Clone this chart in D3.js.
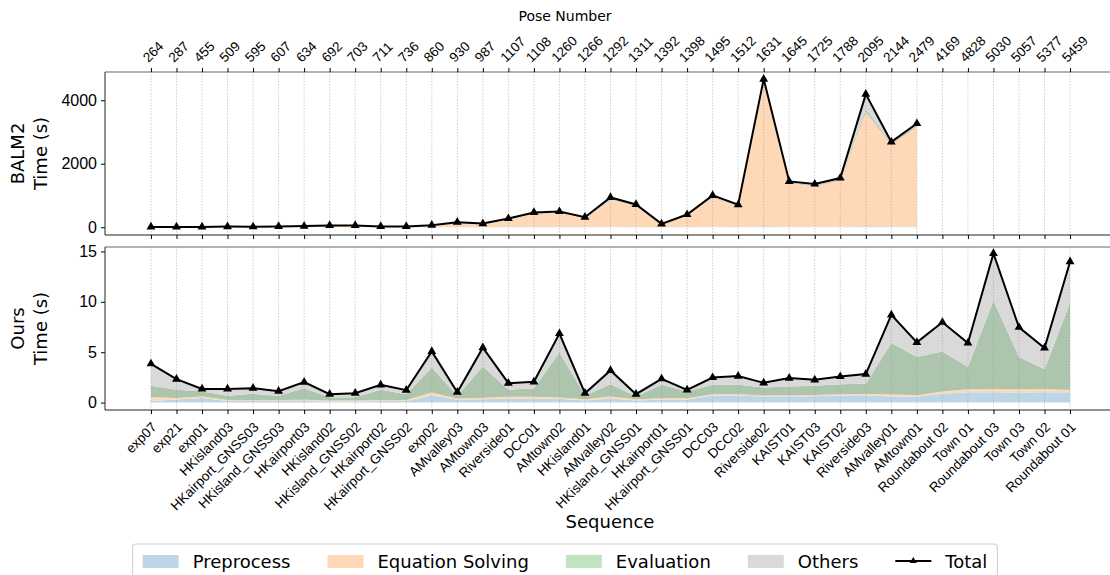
<!DOCTYPE html>
<html>
<head>
<meta charset="utf-8">
<script src="https://cdn.jsdelivr.net/npm/d3@7"></script>
<style>
  body { margin: 0; background: #fff; }
  svg { font-family: "DejaVu Sans", sans-serif; }
</style>
</head>
<body>
<svg id="chart" width="1110" height="575"></svg>
<script>
// sequences along the x axis, with their pose counts on the top axis
const sequences = ["exp07", "exp21", "exp01", "HKisland03", "HKairport_GNSS03", "HKisland_GNSS03",
  "HKairport03", "HKisland02", "HKisland_GNSS02", "HKairport02", "HKairport_GNSS02", "exp02",
  "AMvalley03", "AMtown03", "Riverside01", "DCC01", "AMtown02", "HKisland01", "AMvalley02",
  "HKisland_GNSS01", "HKairport01", "HKairport_GNSS01", "DCC03", "DCC02", "Riverside02",
  "KAIST01", "KAIST03", "KAIST02", "Riverside03", "AMvalley01", "AMtown01", "Roundabout 02",
  "Town 01", "Roundabout 03", "Town 03", "Town 02", "Roundabout 01"];
const poseNumbers = [264, 287, 455, 509, 595, 607, 634, 692, 703, 711, 736, 860, 930, 987, 1107,
  1108, 1260, 1266, 1292, 1311, 1392, 1398, 1495, 1512, 1631, 1645, 1725, 1788, 2095, 2144, 2479,
  4169, 4828, 5030, 5057, 5377, 5459];

// BALM2 timings (s), only the first 31 sequences
const balmPre = [0.5, 0.5, 0.5, 1, 1, 1, 1, 2, 2, 1, 1, 2, 4, 3, 5, 8, 8, 6, 12, 10, 2, 6, 12, 10, 30, 15, 15, 18, 30, 25, 25];
const balmSolve = [6, 6, 8, 16, 12, 21, 29, 46, 46, 21, 21, 55, 140, 99, 245, 420, 447, 284, 861, 657, 95, 365, 925, 647, 4527, 1364, 1280, 1456, 3603, 2582, 3152];
const balmEval = [0.5, 0.5, 0.5, 1, 1, 1, 2, 3, 3, 1, 1, 3, 6, 5, 10, 15, 16, 10, 25, 20, 4, 12, 25, 20, 50, 30, 30, 35, 80, 35, 40];
const balmOther = [1, 1, 1, 2, 1, 2, 3, 4, 4, 2, 2, 5, 10, 8, 15, 22, 24, 16, 40, 30, 6, 18, 40, 30, 60, 35, 35, 40, 480, 45, 50];

// Ours timings (s)
const oursPre = [0.15, 0.30, 0.45, 0.15, 0.15, 0.15, 0.15, 0.10, 0.10, 0.15, 0.15, 0.73, 0.27, 0.33, 0.37, 0.37, 0.37, 0.20, 0.40,
  0.20, 0.30, 0.30, 0.70, 0.70, 0.60, 0.63, 0.63, 0.70, 0.73, 0.60, 0.60, 0.87, 1.03, 1.03, 1.00, 1.03, 1.03];
const oursSolve = [0.40, 0.15, 0.15, 0.10, 0.10, 0.10, 0.12, 0.10, 0.10, 0.10, 0.10, 0.27, 0.13, 0.14, 0.20, 0.20, 0.13, 0.13, 0.20,
  0.13, 0.13, 0.13, 0.13, 0.13, 0.10, 0.10, 0.13, 0.13, 0.13, 0.23, 0.13, 0.23, 0.30, 0.33, 0.33, 0.33, 0.23];
const oursEval = [1.11, 0.82, 0.50, 0.42, 0.62, 0.42, 1.16, 0.30, 0.33, 1.02, 0.58, 2.49, 0.27, 3.12, 0.70, 0.86, 4.48, 0.34, 1.23,
  0.27, 1.33, 0.67, 0.93, 0.93, 0.80, 0.87, 0.90, 1.00, 1.00, 5.08, 3.79, 3.98, 2.19, 8.77, 3.19, 1.96, 8.64];
const oursOther = [2.19, 1.06, 0.26, 0.69, 0.56, 0.46, 0.60, 0.33, 0.40, 0.49, 0.40, 1.59, 0.36, 1.86, 0.66, 0.63, 1.87, 0.26, 1.36,
  0.23, 0.60, 0.16, 0.73, 0.87, 0.46, 0.83, 0.60, 0.76, 0.97, 2.79, 1.46, 2.89, 2.39, 4.67, 2.95, 2.10, 4.08];

const seriesNames = ["Preprocess", "Equation Solving", "Evaluation", "Others"];
const keys = ["pre", "solve", "eval", "other"];
const areaColors = ["#bcd6e8", "#ffd9b7", "#acc5ac", "#d9d9d9"];
const legendColors = ["#bcd6e8", "#ffd9b7", "#c0e3c0", "#d9d9d9"];

const left = 105, right = 1116;
const top1 = 72, bot1 = 235;
const top2 = 247, bot2 = 410;

const svg = d3.select("#chart");

const x = d3.scalePoint()
  .domain(d3.range(sequences.length))
  .range([left, right])
  .padding(1.8);

const y1 = d3.scaleLinear().domain([-245, 4890]).range([bot1, top1]);
const y2 = d3.scaleLinear().domain([-0.735, 15.44]).range([bot2, top2]);

function buildRows(pre, solve, ev, other) {
  return pre.map((d, i) => ({ i: i, pre: d, solve: solve[i], eval: ev[i], other: other[i] }));
}

function drawPanel(rows, y, top, bot, ticks) {
  const g = svg.append("g");
  const stacked = d3.stack().keys(keys)(rows);

  const area = d3.area()
    .x(d => x(d.data.i))
    .y0(d => y(d[0]))
    .y1(d => y(d[1]));

  g.selectAll(".layer")
    .data(stacked)
    .join("path")
    .attr("fill", (d, k) => areaColors[k])
    .attr("d", area);

  // dotted vertical grid
  g.selectAll(".grid")
    .data(sequences.map((s, i) => i))
    .join("line")
    .attr("x1", i => x(i)).attr("x2", i => x(i))
    .attr("y1", top).attr("y2", bot)
    .attr("stroke", "#999")
    .attr("stroke-opacity", 0.6)
    .attr("stroke-width", 0.8)
    .attr("stroke-dasharray", "1.5,1.5");

  const totals = rows.map(r => ({ i: r.i, t: r.pre + r.solve + r.eval + r.other }));
  g.append("path")
    .datum(totals)
    .attr("fill", "none")
    .attr("stroke", "black")
    .attr("stroke-width", 2)
    .attr("d", d3.line().x(d => x(d.i)).y(d => y(d.t)));

  g.selectAll(".mk")
    .data(totals)
    .join("path")
    .attr("transform", d => `translate(${x(d.i)},${y(d.t)})`)
    .attr("d", d3.symbol(d3.symbolTriangle, 34))
    .attr("fill", "black");

  // y axis
  const ya = svg.append("g")
    .attr("transform", `translate(${left},0)`)
    .call(d3.axisLeft(y).tickValues(ticks).tickSize(4).tickPadding(4).tickFormat(d3.format("d")));
  ya.select(".domain").remove();
  ya.selectAll("text").style("font-size", "16px");

  // frame
  svg.append("line").attr("x1", left).attr("x2", 1110).attr("y1", top).attr("y2", top)
    .attr("stroke", "#999").attr("stroke-width", 1.5);
  svg.append("line").attr("x1", left).attr("x2", 1110).attr("y1", bot).attr("y2", bot)
    .attr("stroke", "#222").attr("stroke-width", 1);
  svg.append("line").attr("x1", left).attr("x2", left).attr("y1", top).attr("y2", bot)
    .attr("stroke", "#222").attr("stroke-width", 1);
}

drawPanel(buildRows(balmPre, balmSolve, balmEval, balmOther), y1, top1, bot1, [0, 2000, 4000]);
drawPanel(buildRows(oursPre, oursSolve, oursEval, oursOther), y2, top2, bot2, [0, 5, 10, 15]);

// top axis: pose numbers
const topAx = svg.append("g")
  .attr("transform", `translate(0,${top1})`)
  .call(d3.axisTop(x).tickSize(4).tickFormat(i => poseNumbers[i]));
topAx.select(".domain").remove();
topAx.selectAll("text")
  .style("font-size", "13.5px")
  .attr("text-anchor", "start")
  .attr("x", 0).attr("y", 0).attr("dy", 0)
  .attr("transform", "translate(-3,-9) rotate(-45)");

// tick marks under the top panel
const midAx = svg.append("g")
  .attr("transform", `translate(0,${bot1})`)
  .call(d3.axisBottom(x).tickSize(4).tickFormat(""));
midAx.select(".domain").remove();

// bottom axis: sequence names
const botAx = svg.append("g")
  .attr("transform", `translate(0,${bot2})`)
  .call(d3.axisBottom(x).tickSize(4).tickFormat(i => sequences[i]));
botAx.select(".domain").remove();
botAx.selectAll("text")
  .style("font-size", "13.5px")
  .attr("text-anchor", "end")
  .attr("x", 0).attr("y", 0).attr("dy", 0)
  .attr("transform", "translate(6,18) rotate(-45)");

// titles
svg.append("text").attr("x", 565).attr("y", 21).attr("text-anchor", "middle")
  .style("font-size", "14px").text("Pose Number");
svg.append("text").attr("x", 610).attr("y", 528).attr("text-anchor", "middle")
  .style("font-size", "18px").text("Sequence");

function yLabel(lines, cy) {
  const t = svg.append("text")
    .attr("transform", `translate(0,${cy}) rotate(-90)`)
    .attr("text-anchor", "middle")
    .style("font-size", "18px");
  t.append("tspan").attr("x", 0).attr("y", 24).text(lines[0]);
  t.append("tspan").attr("x", 0).attr("y", 47).text(lines[1]);
}
yLabel(["BALM2", "Time (s)"], (top1 + bot1) / 2);
yLabel(["Ours", "Time (s)"], (top2 + bot2) / 2);

// legend
const legend = svg.append("g");
const box = legend.append("rect")
  .attr("fill", "white").attr("stroke", "#ccc").attr("rx", 3);
let cx = 0;
const entries = seriesNames.concat(["Total"]);
entries.forEach((name, k) => {
  const it = legend.append("g").attr("transform", `translate(${cx},0)`);
  if (k < 4) {
    it.append("rect").attr("x", 0).attr("y", -6).attr("width", 36).attr("height", 13)
      .attr("fill", legendColors[k]);
  } else {
    it.append("line").attr("x1", 0).attr("x2", 36).attr("y1", 0).attr("y2", 0)
      .attr("stroke", "black").attr("stroke-width", 2);
    it.append("path").attr("transform", "translate(18,0)")
      .attr("d", d3.symbol(d3.symbolTriangle, 22)).attr("fill", "black");
  }
  const t = it.append("text").attr("x", 50).attr("y", 6.5)
    .style("font-size", "18px").text(name);
  cx += 50 + t.node().getComputedTextLength() + 37;
});
const legW = cx - 37 + 20;
legend.attr("transform", `translate(${565 - legW / 2 + 10},${561})`);
box.attr("x", -10).attr("y", -17).attr("width", legW).attr("height", 36);
</script>
</body>
</html>
